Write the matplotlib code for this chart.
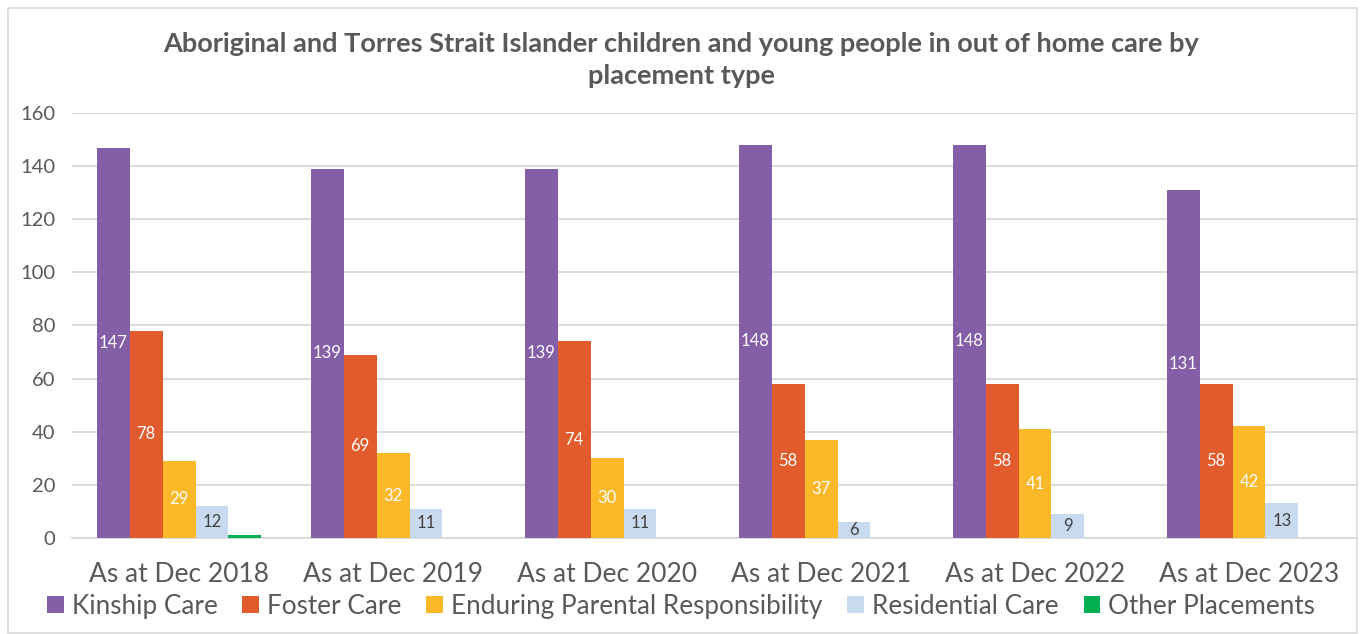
import numpy as np
import matplotlib
matplotlib.use('Agg')
import matplotlib.pyplot as plt
from matplotlib.patches import Rectangle

plt.rcParams['font.family'] = ['Lato', 'DejaVu Sans']

# Data
periods = ['As at Dec 2018', 'As at Dec 2019', 'As at Dec 2020',
           'As at Dec 2021', 'As at Dec 2022', 'As at Dec 2023']
series_names = ['Kinship Care', 'Foster Care', 'Enduring Parental Responsibility',
                'Residential Care', 'Other Placements']
kinship = [147, 139, 139, 148, 148, 131]
foster = [78, 69, 74, 58, 58, 58]
enduring = [29, 32, 30, 37, 41, 42]
residential = [12, 11, 11, 6, 9, 13]
other = [1, 0, 0, 0, 0, 0]

colors = ['#845EA6', '#E25B2D', '#FBB829', '#C7DAF0', '#00B050']
label_colors = ['white', 'white', 'white', '#404040', None]

fig = plt.figure(figsize=(13.62, 6.34), dpi=100)
ax = fig.add_axes([0.0529, 0.1514, 0.9427, 0.6704])

# chart border
fig.patches.append(Rectangle((0.006, 0.002), 0.990, 0.985, transform=fig.transFigure,
                             fill=False, edgecolor='#D9D9D9', linewidth=1.2))

x = np.arange(len(periods))
bw = 0.154
all_series = [kinship, foster, enduring, residential, other]
for i, vals in enumerate(all_series):
    pos = x + (i - 2) * bw
    bars = ax.bar(pos, vals, width=bw, color=colors[i], label=series_names[i], zorder=3)
    if label_colors[i] is not None:
        for b, v in zip(bars, vals):
            ax.text(b.get_x() + b.get_width() / 2, v / 2, str(v), ha='center', va='center',
                    color=label_colors[i], fontsize=12, zorder=4)

ax.set_ylim(0, 160)
ax.set_xlim(-0.5, len(periods) - 0.5)
ax.set_yticks(range(0, 161, 20))
ax.yaxis.grid(True, color='#D9D9D9', linewidth=1.3, zorder=0)
ax.set_axisbelow(True)
ax.set_xticks(x)
ax.set_xticklabels(periods, fontsize=19, color='#595959')
ax.tick_params(axis='y', labelsize=14.5, labelcolor='#595959', length=0, pad=12)
ax.tick_params(axis='x', length=0, pad=17)
for s in ['top', 'right', 'left']:
    ax.spines[s].set_visible(False)
ax.spines['bottom'].set_color('#D9D9D9')
ax.spines['bottom'].set_linewidth(1.3)

fig.text(0.5, 0.906, 'Aboriginal and Torres Strait Islander children and young people in out of home care by\nplacement type',
         ha='center', va='center', fontsize=19.5, fontweight='bold', color='#595959', linespacing=1.4)

leg = fig.legend(loc='center', bbox_to_anchor=(0.5, 0.044), ncol=5, frameon=False,
                 fontsize=18.8, handlelength=0.65, handleheight=0.65, handletextpad=0.3,
                 columnspacing=0.95, borderaxespad=0)
for t in leg.get_texts():
    t.set_color('#595959')

fig.savefig('out.png', dpi=100)
